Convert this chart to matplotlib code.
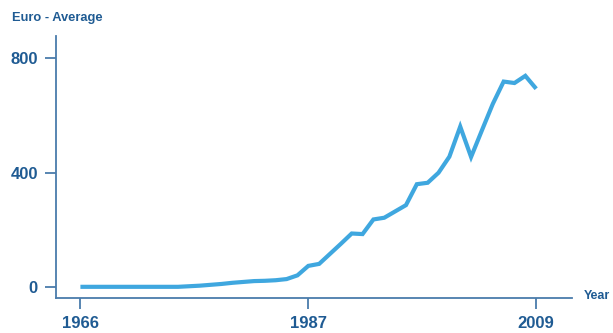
import matplotlib.pyplot as plt

# ===== 数据 =====
years = list(range(1966, 2009)) # 43 points, spread evenly
tick_years = [1966, 1987, 2009]
tick_idx = [0, 21, 42]
values = [2, 2, 2, 2, 2, 2, 2, 2, 2, 2,
          4, 6, 9, 12, 16, 19, 22, 23, 25, 29,
          42, 75, 82, 117, 152, 188, 186, 237, 243, 265,
          287, 360, 365, 400, 456, 561, 455, 548, 640, 718,
          713, 738, 693]
y_ticks = [0, 400, 800]

line_c = '#3fa7df'
axis_c = '#4a7cab'
text_c = '#1f5b93'

plt.rcParams['font.family'] = ['Liberation Sans', 'DejaVu Sans']

fig = plt.figure(figsize=(6.13, 3.33), dpi=100)
ax = fig.add_axes([56/613, 1-298/333, (572-56)/613, (298-36)/333])

ax.plot(range(len(values)), values, color=line_c, lw=3.0,
        solid_joinstyle='miter', solid_capstyle='butt')

ax.set_xlim(-2.25, 45.3)
ax.set_ylim(-37, 877)
ax.set_xticks(tick_idx)
ax.set_xticklabels([str(y) for y in tick_years])
ax.set_yticks(y_ticks)

for s in ['top', 'right']:
    ax.spines[s].set_visible(False)
for s in ['left', 'bottom']:
    ax.spines[s].set_color(axis_c)
    ax.spines[s].set_linewidth(1.3)

ax.tick_params(axis='both', colors=axis_c, length=8, width=1.3,
               labelcolor=text_c, labelsize=12, pad=5)
for lab in ax.get_xticklabels() + ax.get_yticklabels():
    lab.set_fontweight('bold')

fig.text(12/613, 1-18/333, 'Euro - Average', ha='left', va='center',
         fontsize=9.3, fontweight='bold', color=text_c)
fig.text(584/613, 1-296/333, 'Year', ha='left', va='center',
         fontsize=9, fontweight='bold', color=text_c)

fig.savefig('out.png', dpi=100)
